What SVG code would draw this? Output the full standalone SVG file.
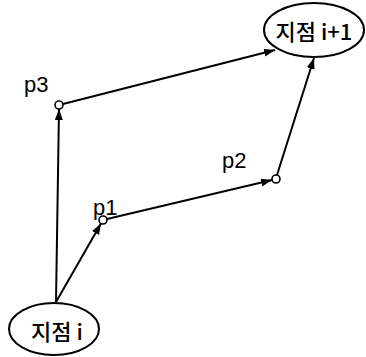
<svg xmlns="http://www.w3.org/2000/svg" width="366" height="357" viewBox="0 0 366 357">
<style>
.ell{fill:#fff;stroke:#000;stroke-width:2}
.pt{fill:#fff;stroke:#000;stroke-width:1.6}
.kr{font-family:"Noto Sans CJK KR","Liberation Sans",sans-serif;font-size:22px;font-weight:500;fill:#000;text-anchor:middle}
.lb{font-family:"Liberation Sans",Arial,sans-serif;font-size:22px;fill:#000}
.ln{stroke:#000;stroke-width:2;fill:none;marker-end:url(#arr)}
</style>
<defs>
<marker id="arr" markerUnits="userSpaceOnUse" markerWidth="12" markerHeight="9" refX="11" refY="4" orient="auto">
<path d="M0,0 L11,4 L0,8 z" fill="#000"/>
</marker>
</defs>
<rect width="366" height="357" fill="#fff"/>
<g id="connectors">
<line class="ln" x1="56" y1="302" x2="59" y2="109"/>
<line class="ln" x1="56" y1="302" x2="101" y2="223.5"/>
<line class="ln" x1="63" y1="104" x2="275" y2="50"/>
<line class="ln" x1="107" y1="219" x2="272" y2="180"/>
<line class="ln" x1="277" y1="175" x2="314" y2="58"/>
</g>
<g id="node-i1">
<ellipse class="ell" cx="314" cy="30" rx="50" ry="27"/>
<text class="kr" x="314" y="40">지점 i+1</text>
</g>
<g id="node-i">
<ellipse class="ell" cx="54" cy="329" rx="45" ry="26"/>
<text class="kr" x="57" y="340">지점 i</text>
</g>
<g id="p3">
<circle class="pt" cx="59" cy="105" r="4"/>
<text class="lb" x="24" y="92">p3</text>
</g>
<g id="p1">
<circle class="pt" cx="103" cy="220" r="4"/>
<text class="lb" x="93" y="215">p1</text>
</g>
<g id="p2">
<circle class="pt" cx="276" cy="179" r="4"/>
<text class="lb" x="222" y="168">p2</text>
</g>
</svg>
